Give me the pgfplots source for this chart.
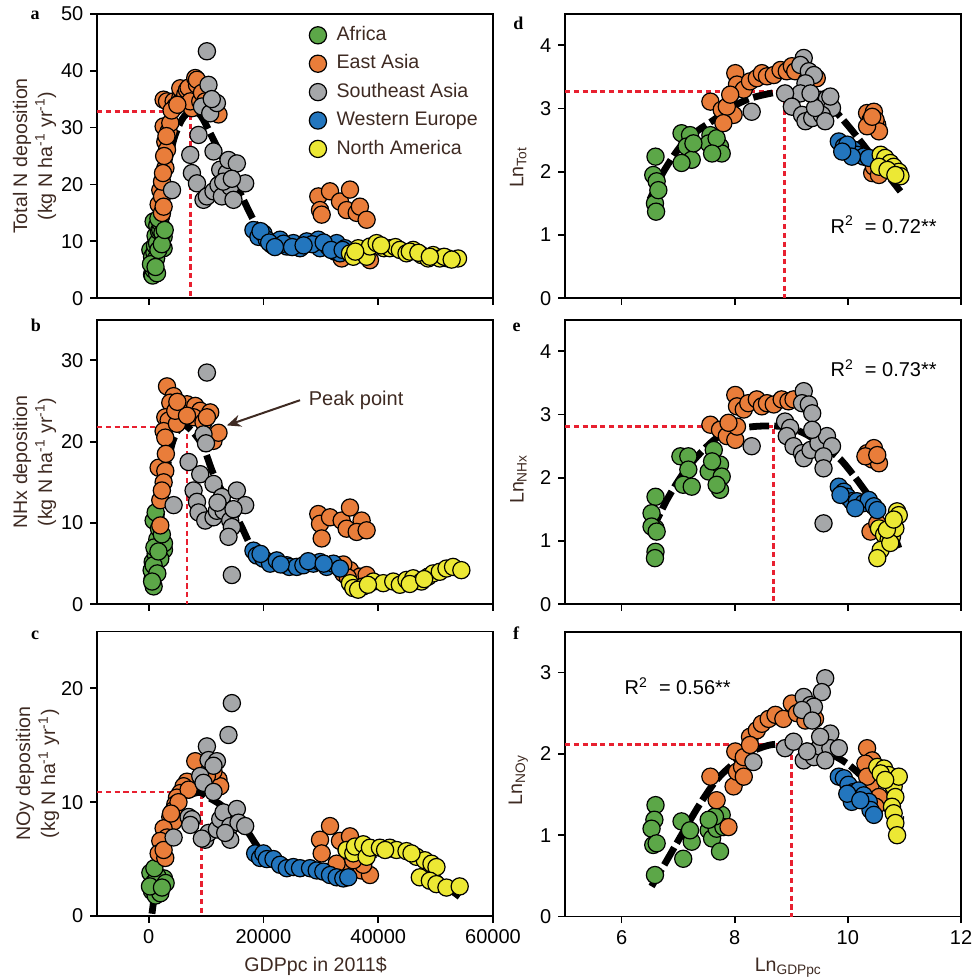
\documentclass[border=0pt]{standalone}
\usepackage{pgfplots}
\pgfplotsset{compat=1.18}
\usepackage{fontspec}
\setmainfont{Liberation Sans}
\newfontfamily\lettfont{Liberation Serif}
\usetikzlibrary{arrows.meta}
\definecolor{cAf}{RGB}{92,167,72}
\definecolor{cEA}{RGB}{233,125,58}
\definecolor{cSA}{RGB}{165,167,169}
\definecolor{cWE}{RGB}{35,118,190}
\definecolor{cNA}{RGB}{236,232,52}
\definecolor{cRed}{RGB}{232,32,48}
\definecolor{textbrown}{RGB}{62,42,34}
\pgfplotsset{
  panel/.style={scale only axis, width=198pt, height=142.3pt, anchor=south west,
    axis line style={line width=0.9pt, black},
    tick align=outside, xtick pos=left, ytick pos=left,
    major tick length=3.3pt,
    every tick/.style={black, line width=0.9pt},
    tick label style={font=\fontsize{10}{12}\selectfont, text=black},
    /pgf/number format/assume math mode=true,
    label style={font=\fontsize{9.8}{12.5}\selectfont, text=textbrown},
    ylabel style={anchor=center, align=center},
    xlabel style={anchor=center},
  },
  leftpanel/.style={xmin=-9000, xmax=60000, xtick={0,20000,40000,60000}, scaled x ticks=false, /pgf/number format/1000 sep={},
    ylabel style={at={(axis description cs:-0.158,0.5)}}},
  rightpanel/.style={xmin=5, xmax=12, xtick={6,8,10,12}},
  nolabels/.style={xticklabels={,,,,}},
  dot/.style={only marks, mark=*, mark size=4.3pt, mark options={fill=#1, draw=black, line width=0.6pt}},
  af/.style={dot=cAf}, ea/.style={dot=cEA}, sa/.style={dot=cSA}, we/.style={dot=cWE}, na/.style={dot=cNA},
  fitc/.style={black, line width=3.4pt, dash pattern=on 10pt off 2.5pt, smooth, tension=0.5, no marks, forget plot},
  peak/.style={cRed, line width=1.4pt, dash pattern=on 2.6pt off 1.8pt, no marks, forget plot},
}
\begin{document}
\begin{tikzpicture}
\useasboundingbox (0pt,0pt) rectangle (485.5pt,-489.5pt);
% ---------------- a ----------------
\begin{axis}[panel, leftpanel, nolabels, at={(48.5pt,-149.15pt)}, ymin=0, ymax=50, ytick={0,10,20,30,40,50},
  ylabel={Total N deposition\\(kg N ha\textsuperscript{-1} yr\textsuperscript{-1})},
  legend entries={Africa, East Asia, Southeast Asia, Western Europe, North America},
  legend cell align=left,
  legend image code/.code={\draw[#1] plot coordinates {(0pt,0pt)};},
  legend style={at={(axis cs:28000,48.7)}, anchor=north west, draw=none, fill=none, inner sep=0pt, outer sep=0pt,
    font=\fontsize{9.8}{12}\selectfont, text=textbrown,
    nodes={text height=7.2pt, text depth=2pt, inner sep=2.5pt},
    /tikz/every odd column/.style={column sep=2.5pt}}]
\addplot[af] coordinates {(300,8.5) (590,4.2) (590,7.3) (700,4.0) (870,5.0) (870,6.2) (870,13.5) (1000,8.0) (1100,9.3) (1200,11.0) (1460,4.4) (1460,9.7) (1500,12.8) (1800,11.8) (2030,12.0) (2030,13.3) (2200,14.5) (2610,8.8) (2610,10.8) (2400,11.5) (1300,7.0) (1700,14.0) (400,6.0) (1200,5.5) (1700,8.5) (2300,9.5) (2800,12.0)};
\addplot[ea] coordinates {(1740,16.5) (2030,19.0) (2320,15.0) (2330,17.9) (2330,20.5) (2610,16.1) (2920,22.9) (2610,30.2) (2900,27.5) (3200,26.1) (3480,29.3) (3770,30.8) (2610,34.9) (3200,34.6) (4350,34.6) (4640,33.7) (5510,35.2) (5800,34.9) (5510,36.9) (6380,35.8) (6680,36.6) (6960,37.0) (7540,33.4) (8120,38.7) (8420,37.5) (8420,38.4) (7250,34.6) (8990,34.6) (9290,36.1) (9860,34.6) (11300,33.1) (12170,32.3) (4000,33.0) (5000,34.0) (2700,25.0) (3100,28.5) (2500,22.0)
 (29560,17.9) (29860,15.5) (30150,14.7) (31600,18.8) (33340,17.0) (34500,15.5) (35080,19.1) (36250,15.0) (36810,16.1) (37980,13.8)
 (33630,7.0) (36810,7.9) (38560,6.7)};
\addplot[sa] coordinates {(4070,19.0) (7250,25.2) (7540,22.0) (8420,20.2) (8690,28.7) (9290,33.7) (9560,17.3) (10150,43.4) (10150,17.9) (10430,37.5) (10730,32.5) (11300,25.8) (11300,18.8) (11890,34.3) (12170,19.9) (12470,22.6) (12760,17.9) (13630,22.0) (13910,24.3) (14210,19.6) (14780,17.3) (15370,23.7) (16820,20.2) (11000,35.0) (13000,20.5) (14500,21.0)};
\addplot[we] coordinates {(18260,12.0) (19130,10.8) (20000,11.4) (20590,10.3) (21460,9.4) (22900,10.3) (24070,9.1) (25220,9.7) (26380,8.8) (27550,10.0) (29560,10.3) (29860,8.8) (31300,9.1) (32470,8.2) (32760,9.7) (33340,7.9) (34210,8.8) (19500,11.8) (23500,9.6) (28500,9.5) (21000,9.8) (22000,9.0) (25000,9.0) (27000,9.3) (30500,9.8) (31800,8.5) (33800,8.5)};
\addplot[na] coordinates {(35080,7.9) (35660,7.3) (36520,8.8) (37980,7.3) (38560,9.1) (39720,9.7) (41000,8.8) (42030,8.8) (43000,9.0) (43770,8.5) (44930,7.9) (46090,8.5) (47540,7.6) (48700,7.0) (49570,7.6) (50730,7.0) (52170,7.0) (53910,7.0) (45500,8.2) (51500,7.3) (36000,8.2) (40500,9.3) (47000,8.0) (49000,7.3) (52800,6.8)};
\addplot[peak] coordinates {(-9000,32.8) (7300,32.8) (7300,0)};
\addplot[fitc] coordinates {(800,4.5) (1300,8.5) (2030,13.2) (3200,22.0) (4350,27.8) (5800,31.4) (7250,32.8) (8990,32.2) (11030,28.4) (13630,23.1) (15950,18.5) (18560,13.2) (20590,10.8) (23480,9.7) (29280,9.4) (35080,9.1) (40880,8.5) (46670,7.9) (53620,7.0)};
\end{axis}
% ---------------- b ----------------
\begin{axis}[panel, leftpanel, nolabels, at={(48.5pt,-302.15pt)}, ymin=0, ymax=35, ytick={0,10,20,30},
  ylabel={NHx deposition\\(kg N ha\textsuperscript{-1} yr\textsuperscript{-1})}]
\addplot[af] coordinates {(870,2.2) (700,3.2) (520,4.2) (700,5.2) (1220,6.2) (2670,6.7) (1510,8.0) (870,10.3) (1800,9.3) (2670,7.5) (1220,11.3) (2030,5.6) (870,4.8) (1510,3.8) (600,2.8) (1000,7.0) (2300,8.6) (1700,6.5)};
\addplot[ea] coordinates {(3200,26.8) (4350,25.6) (3770,24.8) (2900,23.0) (3480,22.6) (2610,21.3) (2900,20.5) (1740,16.8) (2900,16.4) (2610,15.0) (2030,12.8) (2030,9.7) (6090,24.2) (5510,23.4) (6680,24.6) (8120,24.4) (8990,23.8) (7830,23.0) (9560,22.4) (10730,23.6) (11300,20.1) (12170,21.1) (4930,22.2) (4640,23.8) (6680,23.2) (10150,23.0) (5000,24.9) (2300,14.0) (3000,18.5)
 (29560,11.1) (29860,9.9) (30150,8.1) (31600,10.7) (33630,10.3) (35080,11.9) (34500,9.3) (37110,10.3) (36250,8.9) (37980,9.1)
 (33920,3.8) (35080,4.2) (36810,3.4) (37980,3.6) (33920,4.9) (34700,3.3)};
\addplot[sa] coordinates {(10150,28.5) (6960,17.5) (8990,16.0) (7830,14.0) (8420,12.6) (8690,11.3) (9860,10.3) (11300,10.7) (11890,11.5) (11300,14.8) (12760,13.2) (13040,11.5) (14210,10.3) (14500,9.5) (13910,8.3) (15370,14.0) (16820,12.2) (14780,11.7) (4350,12.2) (14500,3.6) (9560,20.9) (9990,19.8) (12000,12.5)};
\addplot[we] coordinates {(18260,6.6) (18850,6.0) (20000,5.6) (21160,5.0) (22330,5.4) (24070,4.8) (24500,4.6) (25800,4.6) (26960,4.8) (28700,5.0) (29860,5.2) (31020,4.6) (32180,5.0) (33340,4.4) (19500,6.2) (27800,5.3) (23000,4.9) (30500,5.0)};
\addplot[na] coordinates {(35080,2.6) (35660,2.0) (37390,2.2) (39140,2.8) (40880,2.6) (42620,2.8) (43770,2.4) (44930,3.0) (46090,3.2) (47540,2.8) (48700,3.4) (49570,3.8) (50730,4.0) (51890,4.4) (53040,4.6) (54490,4.2) (36500,1.8) (45500,2.5) (38200,2.4) (48000,3.1)};
\addplot[peak] coordinates {(-9000,21.8) (6680,21.8) (6680,0)};
\addplot[fitc] coordinates {(600,3.0) (870,4.2) (1450,7.2) (2030,9.9) (2900,15.2) (4070,19.7) (5510,21.9) (6380,22.0) (7830,21.1) (9560,19.3) (11300,16.0) (13630,12.8) (15950,9.9) (18260,6.6) (20590,5.4) (23480,4.8) (26380,5.0) (29860,5.4) (32760,5.2) (35080,4.4) (37980,3.8) (40880,3.0) (43770,2.6) (46670,3.0) (49570,3.4) (51890,3.8) (54490,4.2)};
\node[anchor=base west, font=\fontsize{10}{12}\selectfont, text=textbrown] at (axis cs:26680,24.4) {Peak point};
\draw[textbrown, line width=1pt, -{Stealth[length=7pt, width=6pt]}] (axis cs:26380,25.1) -- (axis cs:13630,22.0);
\end{axis}
% ---------------- c ----------------
\begin{axis}[panel, leftpanel, at={(48.5pt,-458pt)}, ymin=0, ymax=25, ytick={0,10,20},
  ylabel style={at={(axis description cs:-0.150,0.5)}},
  ylabel={NOy deposition\\(kg N ha\textsuperscript{-1} yr\textsuperscript{-1})},
  xlabel={GDPpc in 2011\$}, xlabel style={at={(axis description cs:0.552,-0.178)}}]
\addplot[af] coordinates {(300,3.8) (870,2.9) (1800,2.6) (2670,3.3) (580,2.2) (1220,1.8) (2030,2.0) (1510,3.5) (2960,2.9) (230,2.6) (2320,2.5) (1000,4.2)};
\addplot[ea] coordinates {(8120,13.6) (6680,11.8) (6090,11.4) (5510,10.8) (4930,10.4) (4640,9.8) (4350,9.3) (3770,8.7) (4350,8.3) (2610,7.7) (3200,6.9) (2030,6.6) (1740,5.5) (2900,5.1) (2610,5.8) (12170,12.0) (12470,11.4) (11300,12.7) (6960,11.1) (10150,12.3) (5200,10.0) (3900,9.0)
 (31600,7.9) (29860,6.7) (30150,5.5) (33340,6.6) (35080,7.0) (34500,5.8) (36250,5.5) (33340,4.2) (35080,4.2) (37110,4.0) (38560,3.6) (37400,4.5) (32760,4.6) (35660,4.9)};
\addplot[sa] coordinates {(14500,18.7) (13910,15.9) (10150,14.9) (10440,13.7) (11890,13.6) (11300,13.2) (8990,12.3) (9560,11.7) (11300,10.9) (6960,8.7) (7540,8.5) (7250,8.0) (9860,6.7) (10440,7.3) (11890,7.6) (12470,8.5) (13040,9.1) (14210,7.9) (14210,6.7) (15370,9.4) (15660,8.2) (16820,7.9) (4350,6.9) (9270,6.8) (13340,7.3)};
\addplot[we] coordinates {(18560,5.5) (19420,5.1) (20000,5.5) (20590,5.0) (21750,5.0) (22900,4.5) (24070,4.2) (25220,4.3) (26380,4.2) (28120,4.2) (29280,4.0) (30440,3.9) (31600,3.6) (32760,3.4) (33920,3.3) (34790,3.4)};
\addplot[na] coordinates {(34500,5.8) (35660,5.5) (35950,6.1) (37400,6.3) (37980,5.2) (38560,6.0) (40300,6.0) (42030,6.0) (43190,5.8) (44930,5.7) (46670,5.2) (48120,4.9) (49280,4.6) (50150,4.3) (47250,3.4) (49000,3.1) (50150,2.8) (51890,2.5) (54200,2.6) (41200,5.8) (45800,5.5)};
\addplot[peak] coordinates {(-9000,10.9) (9160,10.9) (9160,0)};
\addplot[fitc] coordinates {(580,0.2) (1220,2.6) (2030,4.9) (3200,7.2) (4640,9.2) (6380,10.4) (8120,10.8) (9200,10.85) (10150,10.5) (12470,9.8) (14780,8.8) (17110,7.5) (19420,5.8) (21750,5.0) (24650,4.4) (28120,4.3) (31600,4.4) (34500,4.7) (36810,5.1) (39720,5.4) (43770,5.4) (46670,5.0) (49570,3.8) (51890,2.6) (54200,1.7)};
\end{axis}
% ---------------- d ----------------
\begin{axis}[panel, rightpanel, nolabels, at={(282.5pt,-149.15pt)}, ymin=0, ymax=4.5, ytick={0,1,2,3,4},
  ylabel={Ln\textsubscript{Tot}}, ylabel style={at={(axis description cs:-0.118,0.46)}}]
\addplot[af] coordinates {(6.60,2.24) (6.56,1.95) (6.62,1.85) (6.59,1.50) (6.61,1.37) (6.65,1.71) (7.06,2.61) (7.21,2.58) (7.15,2.40) (7.24,2.19) (7.06,2.14) (7.57,2.58) (7.63,2.40) (7.54,2.45) (7.74,2.40) (7.77,2.29) (7.68,2.53) (7.60,2.29) (7.27,2.45)};
\addplot[ea] coordinates {(7.57,3.11) (7.77,2.98) (7.98,2.90) (7.86,3.03) (8.01,3.56) (8.04,3.38) (8.16,3.30) (8.27,3.43) (8.39,3.48) (8.48,3.56) (8.57,3.51) (8.69,3.53) (8.81,3.61) (8.92,3.59) (9.01,3.67) (9.07,3.59) (9.28,3.45) (9.45,3.48) (7.92,3.22) (7.80,2.77)
 (10.34,2.93) (10.46,2.95) (10.40,2.82) (10.52,2.74) (10.49,2.82) (10.55,2.64) (10.34,2.72) (10.43,2.87)
 (10.43,1.98) (10.46,2.08) (10.55,1.95)};
\addplot[sa] coordinates {(9.22,3.80) (9.16,3.69) (9.31,3.59) (9.40,3.53) (9.25,3.40) (9.16,3.24) (8.89,3.24) (9.01,3.03) (9.19,2.90) (9.25,2.80) (9.37,2.85) (9.51,3.14) (9.63,3.16) (9.72,3.01) (9.54,2.90) (9.60,2.80) (9.42,3.01) (9.34,3.24) (8.30,2.95) (9.69,3.19)};
\addplot[we] coordinates {(9.84,2.48) (9.93,2.40) (10.01,2.32) (10.10,2.35) (10.16,2.27) (10.28,2.24) (10.37,2.22) (9.99,2.43) (10.07,2.24) (9.90,2.32)};
\addplot[na] coordinates {(10.58,2.27) (10.66,2.22) (10.75,2.14) (10.81,2.08) (10.90,2.00) (10.93,1.93) (10.55,2.08) (10.70,2.03) (10.84,1.95)};
\addplot[peak] coordinates {(5,3.27) (8.88,3.27) (8.88,0)};
\addplot[fitc] coordinates {(6.50,1.56) (6.74,2.00) (7.04,2.40) (7.33,2.64) (7.63,2.82) (7.92,3.01) (8.27,3.16) (8.63,3.24) (8.88,3.27) (9.16,3.24) (9.45,3.16) (9.75,2.98) (10.04,2.69) (10.34,2.35) (10.63,2.03) (10.93,1.69)};
\node[anchor=base west, font=\fontsize{10}{12}\selectfont] at (axis cs:9.57,1.03) {R\textsuperscript{2}\ \ = 0.72**};
\end{axis}
% ---------------- e ----------------
\begin{axis}[panel, rightpanel, nolabels, at={(282.5pt,-302.15pt)}, ymin=0, ymax=4.5, ytick={0,1,2,3,4},
  ylabel={Ln\textsubscript{NHx}}, ylabel style={at={(axis description cs:-0.118,0.44)}}]
\addplot[af] coordinates {(6.60,1.70) (6.53,1.44) (6.60,1.20) (6.53,1.23) (6.62,1.15) (6.60,0.83) (6.59,0.73) (7.04,2.34) (7.18,2.34) (7.18,2.13) (7.09,1.89) (7.24,1.86) (7.54,2.10) (7.63,2.44) (7.74,2.21) (7.77,2.02) (7.74,1.81) (7.68,1.89) (7.60,2.26)};
\addplot[ea] coordinates {(7.57,2.84) (7.74,2.76) (7.86,2.66) (8.01,2.60) (8.01,3.31) (8.04,3.13) (8.16,3.08) (8.24,3.18) (8.39,3.24) (8.48,3.13) (8.57,3.18) (8.69,3.16) (8.83,3.24) (8.95,3.21) (9.04,3.24) (8.04,2.81) (7.89,2.87)
 (10.34,2.39) (10.46,2.47) (10.43,2.29) (10.55,2.23) (10.31,2.34) (10.52,2.36)
 (10.40,1.15) (10.52,1.28)};
\addplot[sa] coordinates {(9.22,3.37) (9.19,3.18) (9.31,3.16) (9.37,3.02) (8.89,2.89) (8.98,2.79) (8.92,2.66) (9.04,2.50) (9.19,2.39) (9.22,2.31) (9.34,2.44) (9.48,2.55) (9.63,2.66) (9.72,2.50) (9.57,2.34) (9.57,2.15) (9.37,2.76) (8.30,2.50) (9.57,1.28)};
\addplot[we] coordinates {(9.84,1.86) (9.93,1.78) (9.99,1.70) (10.07,1.63) (10.16,1.63) (10.28,1.60) (10.37,1.65) (10.46,1.55) (10.52,1.49) (9.87,1.73) (10.13,1.52)};
\addplot[na] coordinates {(10.87,1.47) (10.90,1.41) (10.55,1.20) (10.64,1.10) (10.72,1.02) (10.78,1.07) (10.84,1.20) (10.58,0.86) (10.52,0.73) (10.75,0.97) (10.69,1.18) (10.81,1.34)};
\addplot[peak] coordinates {(5,2.81) (8.69,2.81) (8.69,0)};
\addplot[fitc] coordinates {(6.53,1.15) (6.80,1.65) (7.09,2.07) (7.39,2.39) (7.68,2.63) (7.98,2.76) (8.33,2.81) (8.69,2.82) (8.98,2.79) (9.28,2.68) (9.57,2.50) (9.87,2.29) (10.16,1.97) (10.46,1.60) (10.75,1.23) (10.90,0.89)};
\node[anchor=base west, font=\fontsize{10}{12}\selectfont] at (axis cs:9.57,3.60) {R\textsuperscript{2}\ \ = 0.73**};
\end{axis}
% ---------------- f ----------------
\begin{axis}[panel, rightpanel, at={(282.5pt,-458.25pt)}, ymin=0, ymax=3.5, ytick={0,1,2,3},
  ylabel={Ln\textsubscript{NOy}}, ylabel style={at={(axis description cs:-0.118,0.48)}},
  xlabel={Ln\textsubscript{GDPpc}}, xlabel style={at={(axis description cs:0.564,-0.181)}}]
\addplot[af] coordinates {(6.60,1.37) (6.58,1.19) (6.53,1.08) (6.56,0.88) (6.62,0.90) (6.59,0.51) (7.06,1.17) (7.09,0.71) (7.24,0.92) (7.21,1.06) (7.54,1.06) (7.60,0.96) (7.68,1.08) (7.74,1.19) (7.77,1.25) (7.80,1.10) (7.74,0.80) (7.65,1.23) (7.54,1.19)};
\addplot[ea] coordinates {(7.57,1.72) (7.68,1.43) (7.89,1.10) (7.98,1.60) (8.01,2.03) (8.04,1.78) (8.13,1.84) (8.16,1.96) (8.27,2.21) (8.39,2.29) (8.48,2.37) (8.60,2.43) (8.72,2.48) (8.86,2.43) (9.01,2.62) (9.10,2.50) (9.25,2.41) (9.42,2.43) (8.27,2.11) (8.16,1.72)
 (10.34,2.07) (10.43,1.92) (10.31,1.88) (10.46,1.72) (10.40,1.60) (10.55,1.47) (10.49,1.35) (10.34,1.72)};
\addplot[sa] coordinates {(9.60,2.93) (9.54,2.76) (9.22,2.70) (9.34,2.60) (9.40,2.58) (9.19,2.54) (9.37,2.41) (8.33,1.90) (8.89,2.07) (9.04,2.15) (9.22,1.92) (9.40,1.96) (9.51,2.09) (9.69,2.25) (9.69,2.07) (9.60,1.92) (9.84,2.07) (9.51,2.21) (9.28,2.03)};
\addplot[we] coordinates {(9.84,1.72) (9.93,1.70) (10.01,1.62) (10.10,1.53) (10.19,1.55) (10.28,1.49) (10.37,1.41) (10.40,1.31) (10.46,1.25) (10.07,1.41) (9.99,1.51) (10.22,1.43)};
\addplot[na] coordinates {(10.52,1.84) (10.64,1.82) (10.72,1.74) (10.75,1.66) (10.81,1.60) (10.84,1.47) (10.78,1.35) (10.81,1.27) (10.84,1.15) (10.87,1.00) (10.58,1.76) (10.90,1.72) (10.66,1.68)};
\addplot[peak] coordinates {(5,2.12) (9.01,2.12) (9.01,0)};
\addplot[fitc] coordinates {(6.53,0.37) (6.80,0.69) (7.09,1.04) (7.39,1.39) (7.68,1.68) (7.98,1.88) (8.27,2.02) (8.63,2.11) (9.01,2.12) (9.34,2.09) (9.69,2.00) (9.99,1.88) (10.28,1.70) (10.58,1.47) (10.87,1.23) (10.99,1.19)};
\node[anchor=base west, font=\fontsize{10}{12}\selectfont] at (axis cs:5.93,2.73) {R\textsuperscript{2}\ \ = 0.56**};
\end{axis}
% panel letters
\begin{scope}[every node/.style={anchor=base, font=\lettfont\bfseries\fontsize{9}{10}\selectfont, inner sep=0pt}]
\node at (17.5pt,-10pt) {a};
\node at (18pt,-165.85pt) {b};
\node at (17.5pt,-319.65pt) {c};
\node at (259.15pt,-15pt) {d};
\node at (258.35pt,-165.85pt) {e};
\node at (258pt,-319.65pt) {f};
\end{scope}
\end{tikzpicture}
\end{document}
